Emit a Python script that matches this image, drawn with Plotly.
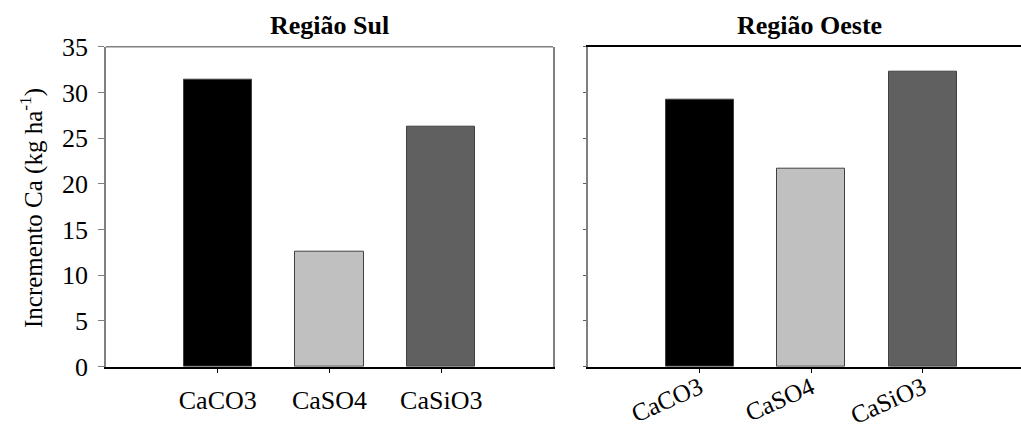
import plotly.graph_objects as go

categories = ["CaCO3", "CaSO4", "CaSiO3"]
sul_values = [31.4, 12.6, 26.2]
oeste_values = [29.2, 21.7, 32.3]
bar_colors = ["#000000", "#c0c0c0", "#606060"]
y_ticks = [0, 5, 10, 15, 20, 25, 30, 35]

W, H = 1021, 428
FONT = "Liberation Serif"

fig = go.Figure()
fig.add_trace(go.Bar(x=categories, y=sul_values, marker=dict(color=bar_colors, line=dict(color="#404040", width=1)),
                     width=0.61, xaxis="x", yaxis="y", showlegend=False))
fig.add_trace(go.Bar(x=categories, y=oeste_values, marker=dict(color=bar_colors, line=dict(color="#404040", width=1)),
                     width=0.61, xaxis="x2", yaxis="y2", showlegend=False))

y0 = 1 - 366.7 / H
y1 = 1 - 46.7 / H

common_x = dict(type="category", showline=True, linecolor="black", linewidth=1.5, ticks="outside",
                ticklen=5, tickcolor="black", tickwidth=1, showgrid=False, zeroline=False, automargin=False)
fig.update_layout(
    width=W, height=H, margin=dict(l=0, r=0, t=0, b=0),
    paper_bgcolor="white", plot_bgcolor="white",
    bargap=0,
    xaxis=dict(domain=[106 / W, 553 / W], range=[-1, 3], anchor="y", ticklabelstandoff=4,
               tickfont=dict(family=FONT, size=26, color="black"), **common_x),
    xaxis2=dict(domain=[588 / W, 1.0], range=[-1, 2.88], anchor="y2", tickangle=-24, mirror=True,
                ticklabelstandoff=-10, tickfont=dict(family=FONT, size=25, color="black"), **common_x),
    yaxis=dict(domain=[y0, y1], range=[0, 35], tickvals=y_ticks, showline=True, linecolor="#808080",
               linewidth=1.5, mirror=True, ticks="outside", ticklen=6, tickcolor="#808080",
               showgrid=False, zeroline=False, anchor="x", automargin=False, ticklabelstandoff=5,
               tickfont=dict(family=FONT, size=26, color="black")),
    yaxis2=dict(domain=[y0, y1], range=[0, 35], tickvals=y_ticks, showline=True, linecolor="#808080",
                linewidth=1.5, ticks="outside", ticklen=3, tickcolor="#606060", showticklabels=False,
                showgrid=False, zeroline=False, anchor="x2", automargin=False),
    shapes=[dict(type="line", xref="x domain", yref="y domain", x0=0, x1=1, y0=1, y1=1,
                 line=dict(color="#808080", width=1.5))],
    annotations=[
        dict(text="<b>Região Sul</b>", xref="x domain", yref="paper", x=0.5, y=1 - 26 / H,
             xanchor="center", yanchor="middle", showarrow=False, font=dict(family=FONT, size=26, color="black")),
        dict(text="<b>Região Oeste</b>", xref="x2 domain", yref="paper", x=(809 - 588) / (W - 588), y=1 - 26 / H,
             xanchor="center", yanchor="middle", showarrow=False, font=dict(family=FONT, size=26, color="black")),
        dict(text="Incremento Ca (kg ha<sup>-1</sup>)", xref="paper", yref="paper", x=31 / W, y=1 - 208 / H,
             xanchor="center", yanchor="middle", textangle=-90, showarrow=False,
             font=dict(family=FONT, size=25, color="black")),
    ],
)

fig.write_html("out.html")
